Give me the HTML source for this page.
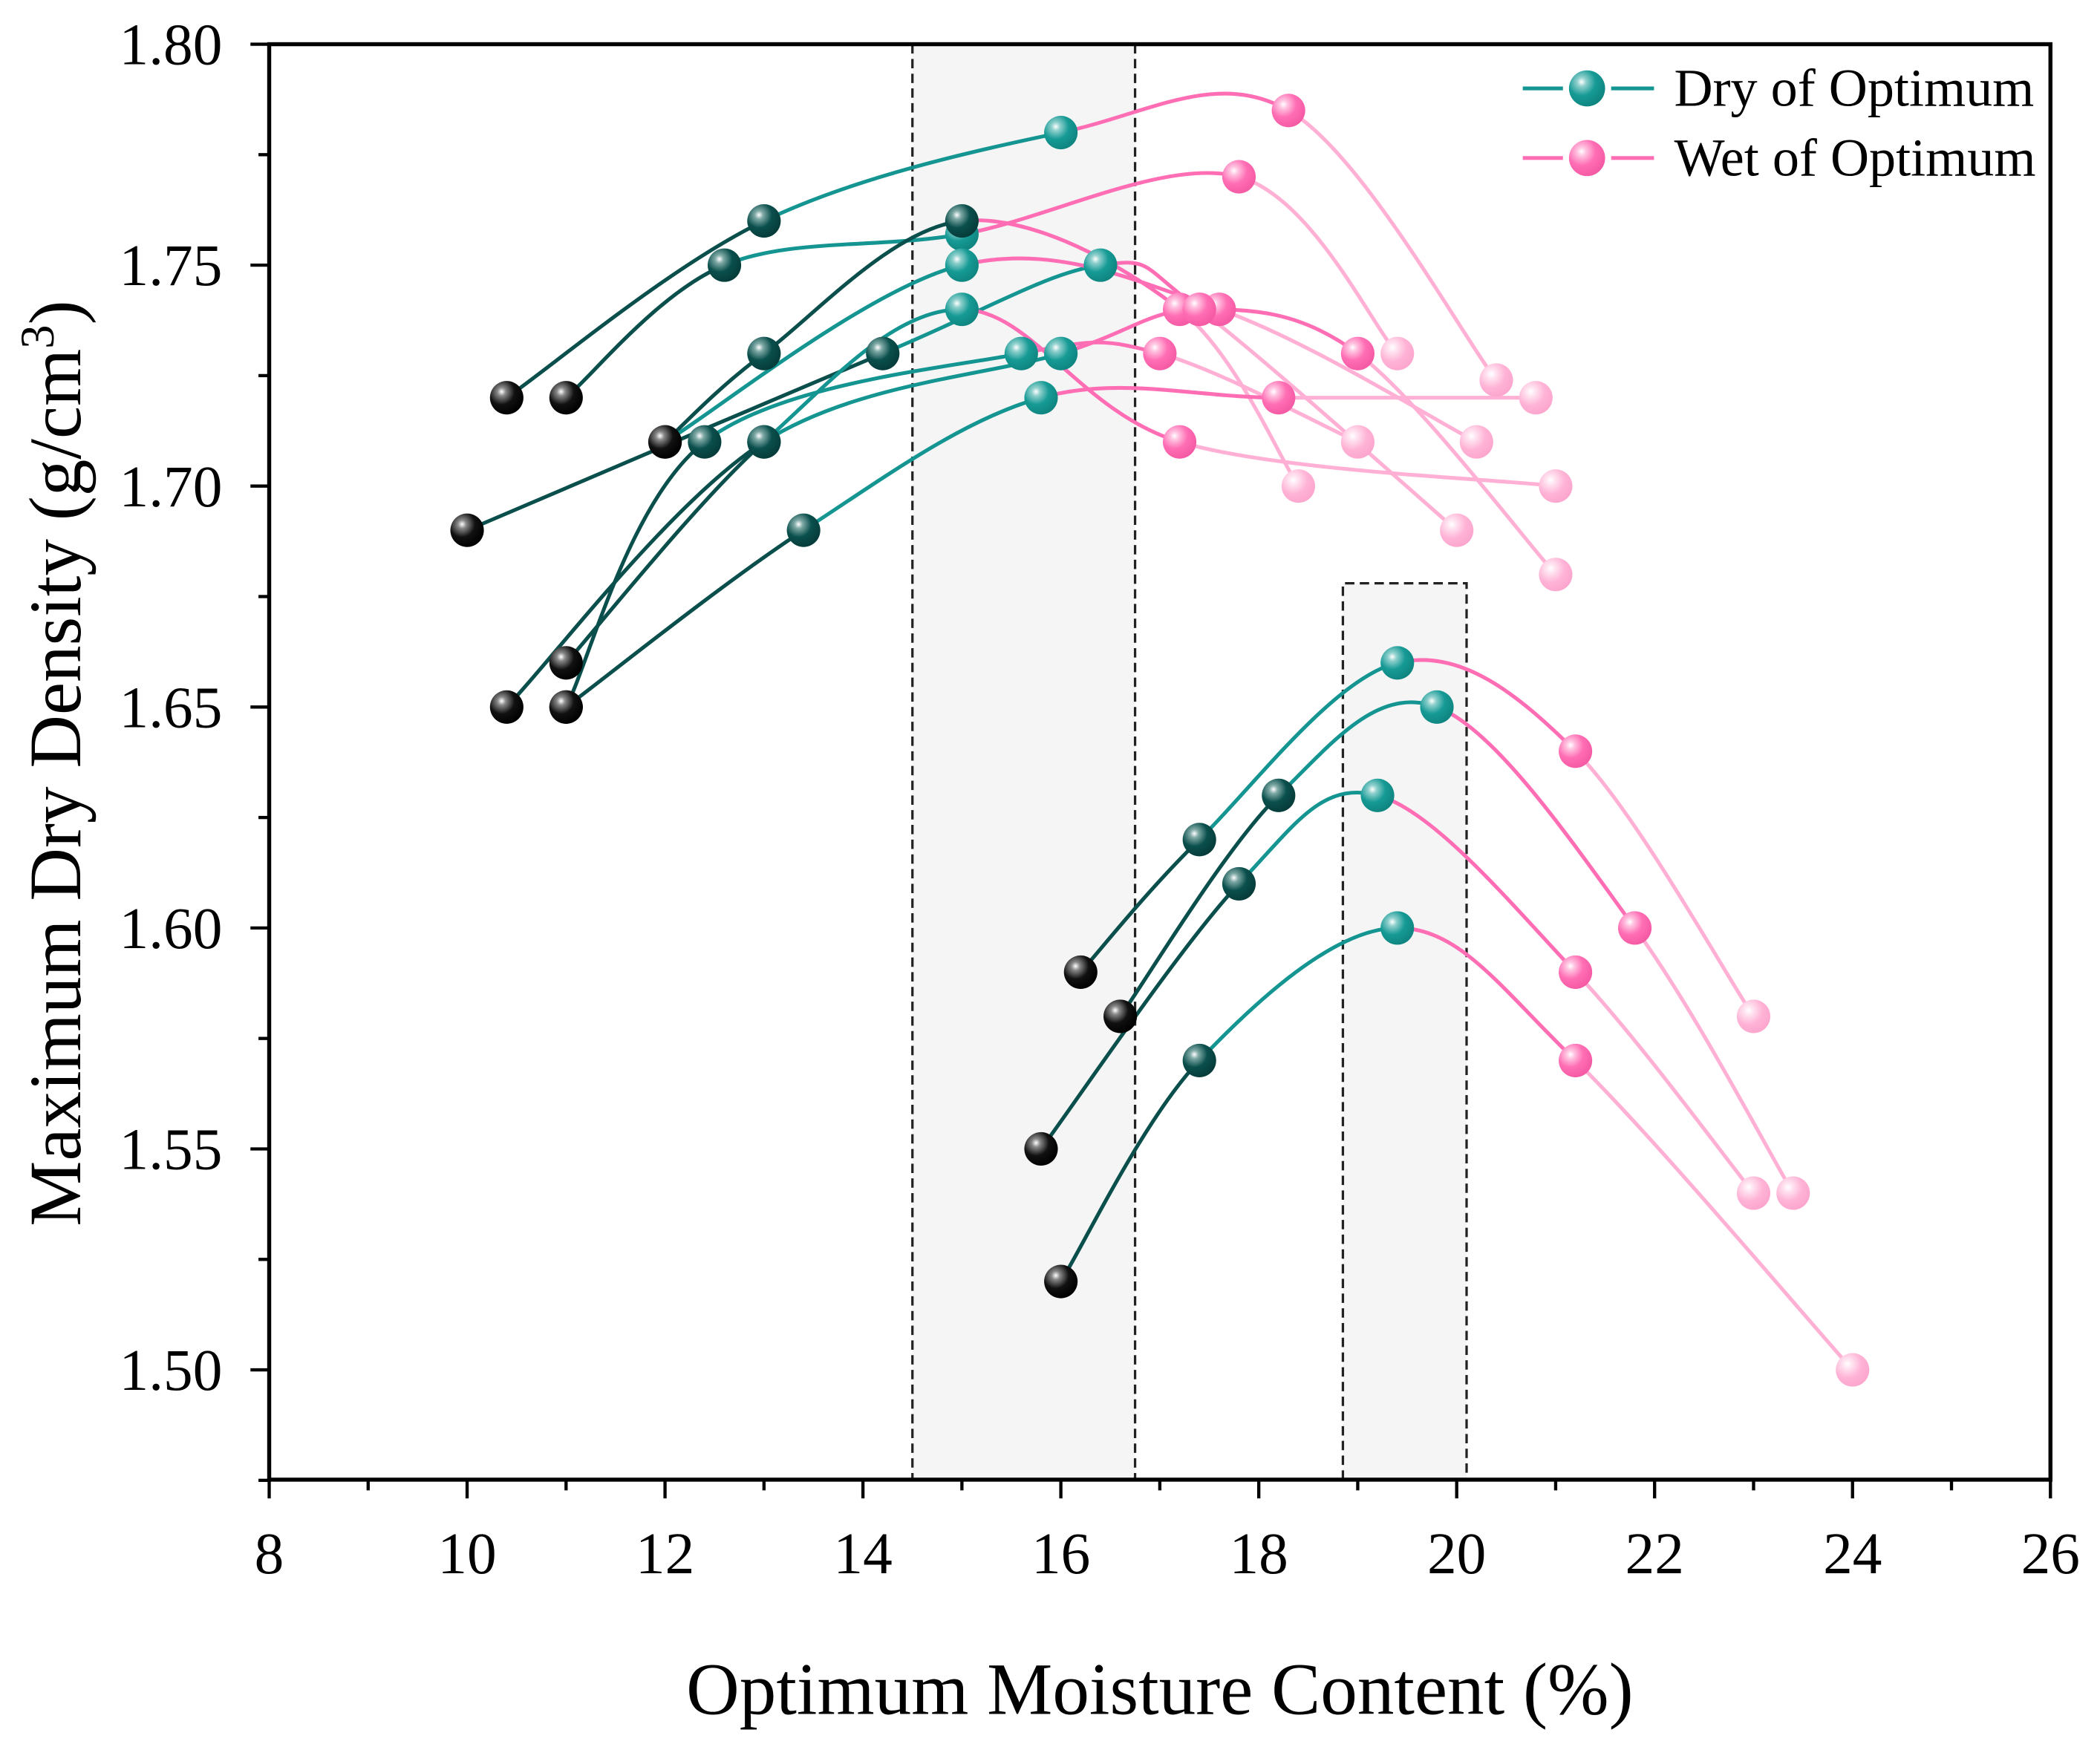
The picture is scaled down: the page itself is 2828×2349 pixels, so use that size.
<!DOCTYPE html>
<html><head><meta charset="utf-8">
<style>
html,body{margin:0;padding:0;background:#fff;}
svg{display:block;}
text{font-family:"Liberation Serif",serif;fill:#000;}
</style></head>
<body>
<svg id="chart" width="2828" height="2349" viewBox="0 0 1568 1302.4" xmlns="http://www.w3.org/2000/svg">
<defs>
<radialGradient id="g0" cx="0.35" cy="0.32" r="0.7"><stop offset="0" stop-color="#fff"/><stop offset="0.18" stop-color="#888"/><stop offset="0.55" stop-color="#111"/><stop offset="1" stop-color="#000"/></radialGradient>
<radialGradient id="g1" cx="0.35" cy="0.32" r="0.7"><stop offset="0" stop-color="#fff"/><stop offset="0.18" stop-color="#7fa9a6"/><stop offset="0.55" stop-color="#0a4f4c"/><stop offset="1" stop-color="#063c3a"/></radialGradient>
<radialGradient id="g2" cx="0.35" cy="0.32" r="0.7"><stop offset="0" stop-color="#fff"/><stop offset="0.18" stop-color="#8fd0cd"/><stop offset="0.55" stop-color="#169a95"/><stop offset="1" stop-color="#0f8580"/></radialGradient>
<radialGradient id="g3" cx="0.35" cy="0.32" r="0.7"><stop offset="0" stop-color="#fff"/><stop offset="0.18" stop-color="#ffc2e0"/><stop offset="0.55" stop-color="#ff6eb4"/><stop offset="1" stop-color="#f55aa5"/></radialGradient>
<radialGradient id="g4" cx="0.35" cy="0.32" r="0.7"><stop offset="0" stop-color="#fff"/><stop offset="0.2" stop-color="#ffe3f0"/><stop offset="0.6" stop-color="#ffb3d6"/><stop offset="1" stop-color="#fca6ce"/></radialGradient>
</defs>
<g id="bands"></g>
<g id="lines"></g>
<g id="marks"></g>
<g id="axes"></g>
<g id="legend"></g>
</svg>
<script>
const curveX = [
 [10.4,13,16,18.3,20.4],
 [11,12.6,15,17.8,19.4],
 [12,13,15,17.2,18.4],
 [10,14.2,16.4,17.4,20],
 [12,15,17.6,20.2],
 [11,13,15,17.2,21],
 [11,12.4,15.6,17,19],
 [10.4,13,16,17.4,19,21],
 [11,13.4,15.8,18.2,20.8],
 [16.2,17.4,19.4,21.2,23],
 [16.6,18.2,19.8,21.8,23.4],
 [15.8,17.8,19.2,21.2,23],
 [16,17.4,19.4,21.2,24]
];
const curveY = [
 [1.72,1.76,1.78,1.785,1.724],
 [1.72,1.75,1.757,1.77,1.73],
 [1.71,1.73,1.76,1.74,1.70],
 [1.69,1.73,1.75,1.74,1.69],
 [1.71,1.75,1.74,1.71],
 [1.66,1.71,1.74,1.71,1.70],
 [1.65,1.71,1.73,1.73,1.71],
 [1.65,1.71,1.73,1.74,1.73,1.68],
 [1.65,1.69,1.72,1.72,1.72],
 [1.59,1.62,1.66,1.64,1.58],
 [1.58,1.63,1.65,1.60,1.54],
 [1.55,1.61,1.63,1.59,1.54],
 [1.52,1.57,1.60,1.57,1.50]
];
const curveStage = [
 [0,1,2,3,4],[0,1,2,3,4],[0,1,1,3,4],[0,1,2,3,4],[0,2,3,4],[0,1,2,3,4],[0,1,2,3,4],[0,1,2,3,3,4],[0,1,2,3,4],
 [0,1,2,3,4],[0,1,2,3,4],[0,1,2,3,4],[0,1,2,3,4]
];
const xTicks = [8,10,12,14,16,18,20,22,24,26];
const yTicks = [1.50,1.55,1.60,1.65,1.70,1.75,1.80];
const bandX = [[14.5,16.75,1.4752],[18.85,20.1,1.678]];

const NS="http://www.w3.org/2000/svg";
const X0=201,X1=1531,Y0=1105,YT=33;
const sx=v=>X0+(v-8)*(X1-X0)/18;
const sy=v=>33+(1.80-v)*3300;
const lineCol=['#0a4f4c','#0a4f4c','#149591','#ff6eb4','#ffb0d4'];
function mk(tag,attrs,parent){const e=document.createElementNS(NS,tag);for(const k in attrs)e.setAttribute(k,attrs[k]);parent.appendChild(e);return e;}
const gB=document.getElementById('bands'),gL=document.getElementById('lines'),gM=document.getElementById('marks'),gA=document.getElementById('axes'),gG=document.getElementById('legend');

bandX.forEach((b,i)=>{
 const full=b[2]<1.5;
 const top=full?YT:sy(b[2]);
 const r=mk('rect',{x:sx(b[0]),y:top,width:sx(b[1])-sx(b[0]),height:Y0-top,fill:'#f5f5f5'},gB);
 
 
 const p=mk('path',{d:(full?`M${sx(b[0])},${top}V${Y0}M${sx(b[1])},${top}V${Y0}`:`M${sx(b[0])},${Y0}V${top}H${sx(b[1])}V${Y0}`),stroke:'#222','stroke-width':1.8,'stroke-dasharray':'7,4',fill:'none'},gB);
 
 
});

function seg(P,i){
 const p0=P[Math.max(i-1,0)],p1=P[i],p2=P[i+1],p3=P[Math.min(i+2,P.length-1)];
 const c1=[p1[0]+(p2[0]-p0[0])/6,p1[1]+(p2[1]-p0[1])/6],c2=[p2[0]-(p3[0]-p1[0])/6,p2[1]-(p3[1]-p1[1])/6];
 return `M${p1[0]},${p1[1]}C${c1[0]},${c1[1]} ${c2[0]},${c2[1]} ${p2[0]},${p2[1]}`;
}
curveX.forEach((xs,ci)=>{
 const P=xs.map((x,j)=>[sx(x),sy(curveY[ci][j])]);
 for(let j=0;j<P.length-1;j++){
  const st=curveStage[ci][j+1];
  const p=mk('path',{d:seg(P,j),stroke:lineCol[st],'stroke-width':2.8,fill:'none'},gL);
  
  
 }
 P.forEach((pt,j)=>{
  const c=mk('circle',{cx:pt[0],cy:pt[1],r:12.5,fill:'url(#g'+curveStage[ci][j]+')'},gM);
  
  
 });
});

const frame=mk('rect',{x:X0,y:YT,width:X1-X0,height:Y0-YT,fill:'none',stroke:'#000','stroke-width':3},gA);


for(let v=8;v<=26;v++){
 const major=v%2===0;
 mk('line',{x1:sx(v),x2:sx(v),y1:Y0,y2:Y0+(major?14:8),stroke:'#000','stroke-width':2.4},gA);
}
xTicks.forEach(v=>{const t=mk('text',{x:sx(v),y:Y0+70,'text-anchor':'middle','font-size':44},gA);t.textContent=v;
 
 });
for(let k=0;k<=13;k++){
 const v=1.475+k*0.025;const major=k%2===1;
 const y=sy(v); if(y>Y0+0.5)continue;
 mk('line',{x1:X0,x2:X0-(major?14:8),y1:y,y2:y,stroke:'#000','stroke-width':2.4},gA);
}
yTicks.forEach(v=>{const t=mk('text',{x:166,y:sy(v)+15,'text-anchor':'end','font-size':44},gA);t.textContent=v.toFixed(2);
 
 });
const xt=mk('text',{x:866,y:1280,'text-anchor':'middle','font-size':55},gA);xt.textContent='Optimum Moisture Content (%)';


const yt=mk('text',{x:0,y:0,'text-anchor':'middle','font-size':55,transform:'translate(60,570) rotate(-90)'},gA);
yt.innerHTML='Maximum Dry Density (g/cm<tspan dy="-20" font-size="36">3</tspan><tspan dy="20">)</tspan>';



[['Dry of Optimum','#149591',2,66],['Wet of Optimum','#ff6eb4',3,118]].forEach(([lab,col,g,y])=>{
 const grp=mk('g',{},gG);
 
 
 mk('line',{x1:1137,x2:1167,y1:y,y2:y,stroke:col,'stroke-width':2.8},grp);
 mk('line',{x1:1203,x2:1235,y1:y,y2:y,stroke:col,'stroke-width':2.8},grp);
 mk('circle',{cx:1185,cy:y,r:13.5,fill:'url(#g'+g+')'},grp);
 const t=mk('text',{x:1250,y:y+13,'font-size':40},grp);t.textContent=lab;
});
</script>
</body></html>
